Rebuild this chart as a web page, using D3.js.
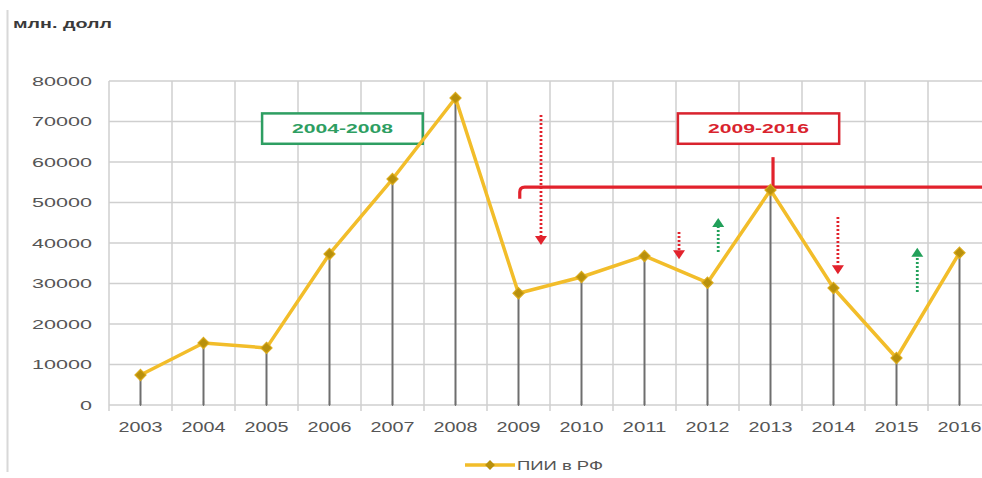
<!DOCTYPE html>
<html><head><meta charset="utf-8">
<script src="https://cdn.jsdelivr.net/npm/d3@7"></script>
<style>
html,body{margin:0;padding:0;background:#fff;}
svg{display:block;font-family:"Liberation Sans","Open Sans",Arial,sans-serif;}
</style></head>
<body>
<svg id="chart" width="982" height="478"></svg>
<script>
const years = ["2003","2004","2005","2006","2007","2008","2009","2010","2011","2012","2013","2014","2015","2016"];
const values = [7400, 15300, 14100, 37300, 55800, 75800, 27600, 31600, 36800, 30200, 53100, 28900, 11600, 37600];
const yTicks = [0,10000,20000,30000,40000,50000,60000,70000,80000];
const unitLabel = "млн. долл";
const seriesName = "ПИИ в РФ";
const periodLabels = ["2004-2008", "2009-2016"];
// annotation arrows: [year-index position, from value, to value]
const redArrows = [[6.357, 71600, 39500],[8.548, 42700, 36000],[11.07, 46400, 32300]];
const greenArrows = [[9.17, 37800, 46200],[12.33, 27900, 38800]];

(function(){
const svg = d3.select("#chart");
const W = 982, H = 478;
const pLeft = 109, pRight = 991, pTop = 81, pBottom = 405;

const x = d3.scaleBand().domain(years).range([pLeft, pRight]).paddingInner(0).paddingOuter(0);
const step = x.step();
const xi = i => pLeft + (i + 0.5) * step;
const y = d3.scaleLinear().domain([0, 80000]).range([pBottom, pTop]);

svg.append("line").attr("x1",7.5).attr("x2",7.5).attr("y1",10).attr("y2",472)
  .attr("stroke","#d8d8d8").attr("stroke-width",2);

svg.append("text").attr("x",13).attr("y",28).attr("font-size",13).attr("font-weight","bold")
  .attr("fill","#3a3a3a").attr("textLength",99).attr("lengthAdjust","spacingAndGlyphs").text(unitLabel);

svg.append("g").selectAll("line").data(yTicks).join("line")
  .attr("x1", pLeft).attr("x2", W).attr("y1", d => y(d)).attr("y2", d => y(d))
  .attr("stroke", "#cfcfcf").attr("stroke-width", 1.5);

const bounds = years.map(d => x(d)).concat([pRight]);
svg.append("g").selectAll("line").data(bounds).join("line")
  .attr("x1", d => d).attr("x2", d => d).attr("y1", pTop).attr("y2", pBottom + 6)
  .attr("stroke", "#cfcfcf").attr("stroke-width", 1.5);

svg.append("g").selectAll("text").data(yTicks).join("text")
  .attr("x", 92).attr("y", d => y(d)).attr("dy","0.36em").attr("text-anchor","end")
  .attr("font-size", 13).attr("fill","#555")
  .attr("textLength", d => String(d).length * 12).attr("lengthAdjust","spacingAndGlyphs")
  .text(d => d);

svg.append("g").selectAll("line").data(years).join("line")
  .attr("x1", d => x(d)+step/2).attr("x2", d => x(d)+step/2).attr("y1", pBottom-4).attr("y2", pBottom+1)
  .attr("stroke","#777").attr("stroke-width",1.2);

svg.append("g").selectAll("text").data(years).join("text")
  .attr("x", d => x(d)+step/2).attr("y", 432).attr("text-anchor","middle")
  .attr("font-size", 14).attr("fill","#555")
  .attr("textLength", 44).attr("lengthAdjust","spacingAndGlyphs")
  .text(d => d);

svg.append("g").selectAll("line").data(values).join("line")
  .attr("x1", (d,i) => x(years[i])+step/2).attr("x2", (d,i) => x(years[i])+step/2)
  .attr("y1", d => y(d)).attr("y2", pBottom)
  .attr("stroke","#6e6e6e").attr("stroke-width",2);

function box(i0, i1, v0, v1, color, label){
  svg.append("rect").attr("x", xi(i0)).attr("y", y(v0)).attr("width", xi(i1)-xi(i0)).attr("height", y(v1)-y(v0))
    .attr("fill","#fff").attr("stroke", color).attr("stroke-width", 2.5);
  svg.append("text").attr("x", (xi(i0)+xi(i1))/2).attr("y", (y(v0)+y(v1))/2).attr("dy","0.36em")
    .attr("text-anchor","middle").attr("font-size",13).attr("font-weight","bold").attr("fill",color)
    .attr("textLength",101).attr("lengthAdjust","spacingAndGlyphs").text(label);
}
box(1.93, 4.48, 72000, 64500, "#2e9e62", periodLabels[0]);
box(8.53, 11.09, 72000, 64500, "#d9232e", periodLabels[1]);

const red = "#e2222c";
const by = y(53800);
svg.append("path")
  .attr("d", `M${xi(6.02)},${y(50900)} L${xi(6.02)},${by+5} Q${xi(6.02)},${by} ${xi(6.02)+5},${by} L${W},${by}`)
  .attr("fill","none").attr("stroke",red).attr("stroke-width",3.2);
svg.append("line").attr("x1", xi(10.04)).attr("x2", xi(10.04)).attr("y1", y(61200)).attr("y2", by)
  .attr("stroke",red).attr("stroke-width",3.2);

function arrow(a, color){
  const [i, v0, v1] = a;
  const X = xi(i), y0 = y(v0), y1 = y(v1);
  const dir = y1 > y0 ? 1 : -1;
  const hl = 9;
  svg.append("line").attr("x1", X).attr("x2", X).attr("y1", y0).attr("y2", y1 - dir*hl)
    .attr("stroke", color).attr("stroke-width", 2.8).attr("stroke-dasharray","2,2");
  svg.append("path").attr("d", `M${X-6},${y1-dir*hl} L${X+6},${y1-dir*hl} L${X},${y1} Z`).attr("fill", color);
}
redArrows.forEach(a => arrow(a, "#e2222c"));
greenArrows.forEach(a => arrow(a, "#22a05a"));

const line = d3.line().x((d,i) => x(years[i])+step/2).y(d => y(d));
svg.append("path").datum(values).attr("d", line).attr("fill","none")
  .attr("stroke","#f2bd2a").attr("stroke-width",3.5).attr("stroke-linejoin","round");

const diamond = d3.symbol().type(d3.symbolDiamond).size(50);
svg.append("g").selectAll("path").data(values).join("path")
  .attr("transform", (d,i) => `translate(${x(years[i])+step/2},${y(d)}) scale(1.45,0.85)`)
  .attr("d", diamond).attr("fill","#b8900c").attr("stroke","#d9a91a").attr("stroke-width",1);

const lg = svg.append("g");
lg.append("line").attr("x1",465).attr("x2",515).attr("y1",465).attr("y2",465)
  .attr("stroke","#f2bd2a").attr("stroke-width",3.5);
lg.append("path").attr("transform","translate(490,465) scale(1.45,0.85)").attr("d", d3.symbol().type(d3.symbolDiamond).size(40)).attr("fill","#b8900c");
lg.append("text").attr("x",517).attr("y",465).attr("dy","0.36em").attr("font-size",13).attr("fill","#555")
  .attr("textLength",86).attr("lengthAdjust","spacingAndGlyphs").text(seriesName);
})();
</script>
</body></html>
